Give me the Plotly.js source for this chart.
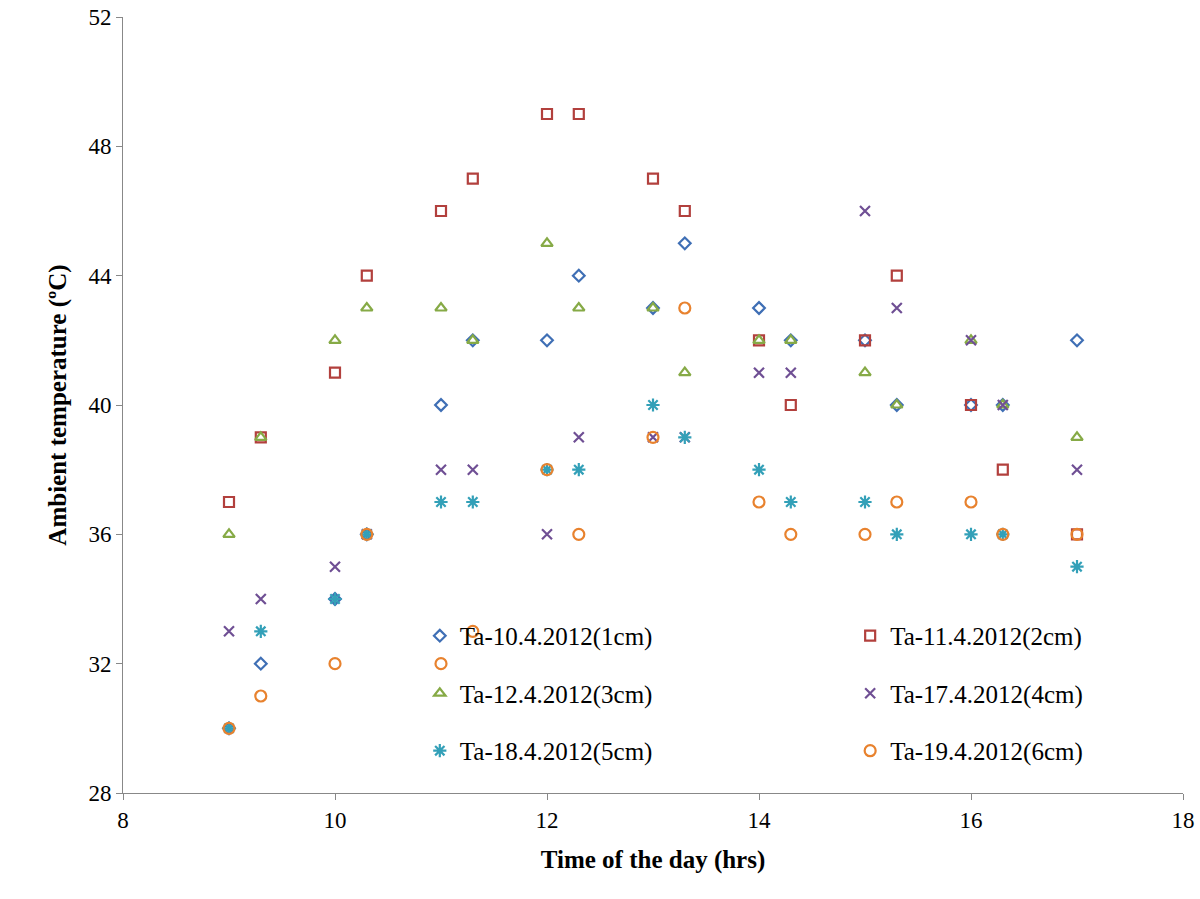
<!DOCTYPE html>
<html>
<head>
<meta charset="utf-8">
<script src="https://cdn.plot.ly/plotly-3.0.1.min.js"></script>
<style>body{margin:0;background:#fff}</style>
</head>
<body>
<div id="chart" style="width:1200px;height:899px"></div>
<script>
const hours = [9, 9.3, 10, 10.3, 11, 11.3, 12, 12.3, 13, 13.3, 14, 14.3, 15, 15.3, 16, 16.3, 17]

const ta1cm = [30, 32, 34, 36, 40, 42, 42, 44, 43, 45, 43, 42, 42, 40, 40, 40, 42]
const ta2cm = [37, 39, 41, 44, 46, 47, 49, 49, 47, 46, 42, 40, 42, 44, 40, 38, 36]
const ta3cm = [36, 39, 42, 43, 43, 42, 45, 43, 43, 41, 42, 42, 41, 40, 42, 40, 39]
const ta4cm = [33, 34, 35, 36, 38, 38, 36, 39, 39, 39, 41, 41, 46, 43, 42, 40, 38]
const ta5cm = [30, 33, 34, 36, 37, 37, 38, 38, 40, 39, 38, 37, 37, 36, 36, 36, 35]
const ta6cm = [30, 31, 32, 36, 32, 33, 38, 36, 39, 43, 37, 36, 36, 37, 37, 36, 36]

const names = ['Ta-10.4.2012(1cm)', 'Ta-11.4.2012(2cm)', 'Ta-12.4.2012(3cm)',
               'Ta-17.4.2012(4cm)', 'Ta-18.4.2012(5cm)', 'Ta-19.4.2012(6cm)']

const series = [ta1cm, ta2cm, ta3cm, ta4cm, ta5cm, ta6cm]
const colors = ['#3f6fb5', '#b2403d', '#86aa46', '#6f4f94', '#33a0b8', '#e8822e']
const symbols = ['diamond-open', 'square-open', 'triangle-up-open', 'x-thin-open', 'asterisk-open', 'circle-open']
const sizes = [9, 10, 10, 10, 11, 11]

const serif = "'Liberation Serif', 'Times New Roman', serif"

// legend has two columns: odd entries left, even entries right
const data = series.map((ys, i) => ({
    x: hours,
    y: ys,
    type: 'scatter',
    mode: 'markers',
    name: names[i],
    legend: i % 2 === 0 ? 'legend' : 'legend2',
    legendgroup: 'g' + i,
    marker: {
        symbol: symbols[i],
        size: sizes[i],
        color: colors[i],
        line: { width: 2.2, color: colors[i] }
    }
}))

const axisFont = { family: serif, size: 23, color: '#000' }
const legendFont = { family: serif, size: 25, color: '#000' }
const titleFont = { family: serif, size: 25, color: '#000' }

const legendBase = {
    yanchor: 'top',
    y: 0.232,
    xanchor: 'left',
    tracegroupgap: 22,
    font: legendFont,
    bgcolor: 'rgba(0,0,0,0)'
}

const layout = {
    width: 1200,
    height: 899,
    margin: { l: 123, r: 17, t: 17, b: 106 },
    paper_bgcolor: '#fff',
    plot_bgcolor: '#fff',
    showlegend: true,
    legend: Object.assign({}, legendBase, { x: 0.28 }),
    legend2: Object.assign({}, legendBase, { x: 0.686 }),
    xaxis: {
        range: [8, 18],
        dtick: 2,
        showgrid: false,
        zeroline: false,
        showline: true,
        linecolor: '#888',
        linewidth: 1,
        ticks: 'outside',
        ticklen: 6,
        tickcolor: '#888',
        tickfont: axisFont,
        title: { text: '<b>Time of the day (hrs)</b>', font: titleFont, standoff: 18 }
    },
    yaxis: {
        range: [28, 52],
        dtick: 4,
        showgrid: false,
        zeroline: false,
        showline: true,
        linecolor: '#888',
        linewidth: 1,
        ticks: 'outside',
        ticklen: 6,
        tickcolor: '#888',
        tickfont: axisFont,
        title: { text: '<b>Ambient temperature (ºC)</b>', font: titleFont, standoff: 14 }
    }
}

Plotly.newPlot('chart', data, layout, { displayModeBar: false, staticPlot: true })
</script>
</body>
</html>
